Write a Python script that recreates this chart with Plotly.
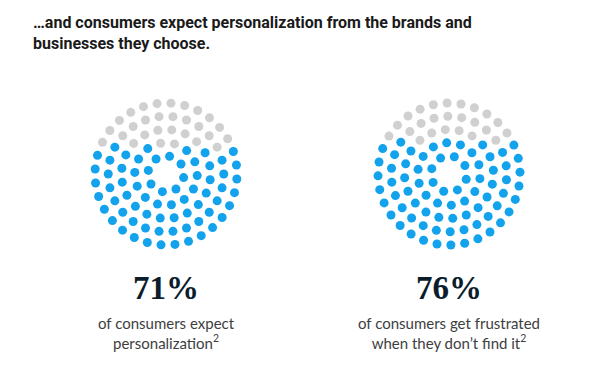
import numpy as np
import plotly.graph_objects as go

# ---- data ----
title_lines = ["…and consumers expect personalization from the brands and",
               "businesses they choose."]
percentages = [71, 76]
value_labels = ["71%", "76%"]
captions = ["of consumers expect<br>personalization<sup>2</sup>",
            "of consumers get frustrated<br>when they don’t find it<sup>2</sup>"]
ring_counts = [8, 14, 20, 26, 32]  # 100 dots per unit chart

BLUE = "#13a2ec"
GRAY = "#d0d0d0"

# page has an 8px body margin; coordinates below are window pixels
OFF = 8
W, H = 600, 369
centers_x = [166, 449]
center_y = 174
r_inner, r_outer = 18, 71

fig = go.Figure()
radii = np.linspace(r_inner, r_outer, len(ring_counts))
offsets = [0.2, 0.05, 0.13, 0.0, 0.07]

for ci, (cx, pct) in enumerate(zip(centers_x, percentages)):
    xs, ys = [], []
    for k, (n, r) in enumerate(zip(ring_counts, radii)):
        ang = 2 * np.pi * (np.arange(n) / n) + offsets[k] + 0.1 * ci
        xs.extend(cx + r * np.cos(ang))
        ys.extend(center_y + r * np.sin(ang))
    xs = np.array(xs); ys = np.array(ys)
    order = np.argsort(-ys)  # bottom first (pixel coords, y down)
    n_blue = int(round(pct / 100 * len(xs)))
    colors = np.array([GRAY] * len(xs), dtype=object)
    colors[order[:n_blue]] = BLUE
    fig.add_trace(go.Scatter(x=xs, y=ys, mode="markers",
                             marker=dict(size=9, color=list(colors), line=dict(width=0)),
                             hoverinfo="skip", showlegend=False))
    fig.add_annotation(x=cx, y=300, xref="x", yref="y", text="<b>" + value_labels[ci] + "</b>",
                       showarrow=False, xanchor="center", yanchor="bottom",
                       yshift=-8,
                       font=dict(family="Liberation Serif", size=33, color="#0b1d2c"))
    fig.add_annotation(x=cx, y=312, xref="x", yref="y", text=captions[ci],
                       showarrow=False, xanchor="center", yanchor="top", align="center",
                       font=dict(family="Lato", size=15, color="#3e3e3e"))

fig.add_annotation(x=31, y=11, xref="x", yref="y", xanchor="left", yanchor="top",
                   align="left", showarrow=False,
                   text="<b>" + "<br>".join(title_lines) + "</b>",
                   font=dict(family="Roboto", size=16, color="#1a1a1a"))

fig.update_xaxes(range=[OFF, W], visible=False, fixedrange=True)
fig.update_yaxes(range=[H, OFF], visible=False, fixedrange=True)
fig.update_layout(width=W - OFF, height=H - OFF, margin=dict(l=0, r=0, t=0, b=0),
                  plot_bgcolor="white", paper_bgcolor="white")
fig.write_html("out.html")
